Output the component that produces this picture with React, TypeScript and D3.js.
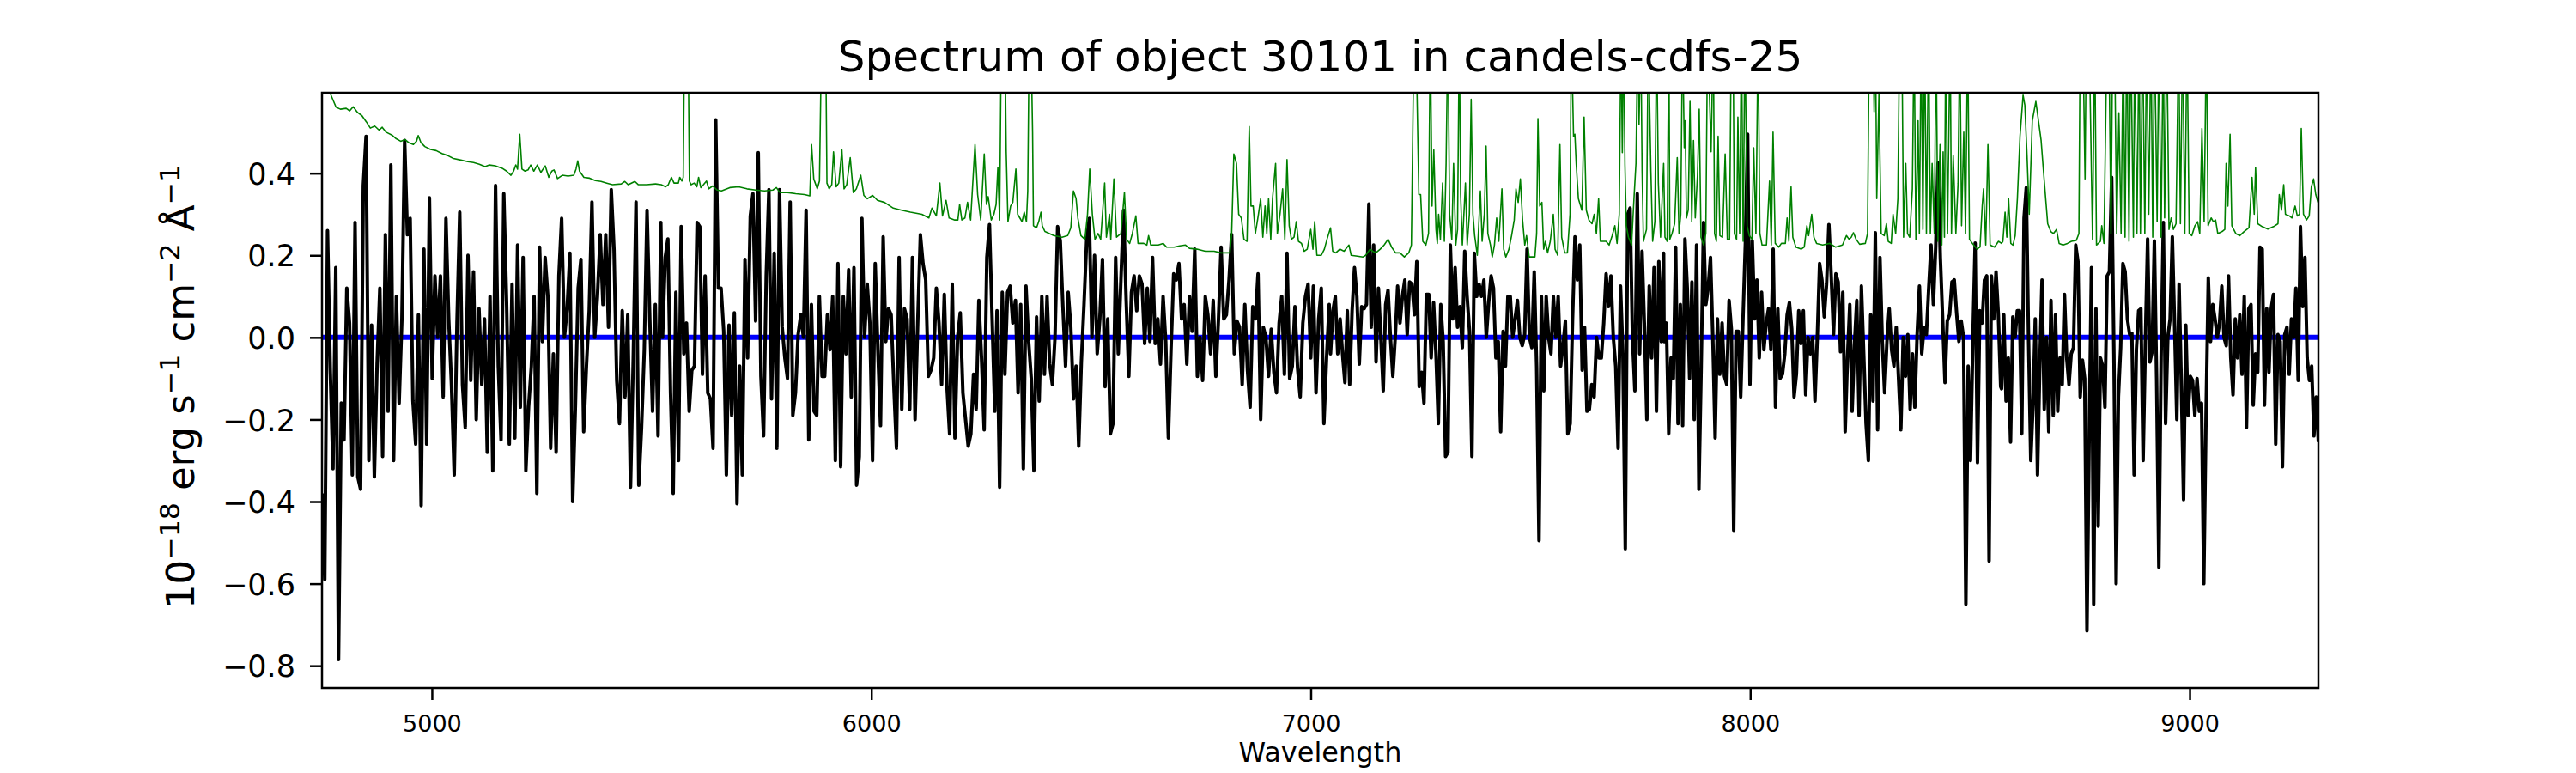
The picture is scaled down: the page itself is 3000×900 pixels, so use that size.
import React, { useEffect, useRef } from 'react'
import * as d3 from 'd3'

const TITLE = 'Spectrum of object 30101 in candels-cdfs-25'
const X_LABEL = 'Wavelength'
const X_TICKS = [5000, 6000, 7000, 8000, 9000]
const Y_TICKS = [-0.8, -0.6, -0.4, -0.2, 0.0, 0.2, 0.4]
const X_DOMAIN: [number, number] = [4750, 9293]
const Y_DOMAIN: [number, number] = [-0.854, 0.596]

// flux, one stretch at a time (points evenly spread over each stretch)
const FLUX_A = [
  -0.38, -0.59, 0.26, -0.08, -0.32, 0.17, -0.785, -0.16, -0.25, 0.12,
  0.035, -0.335, 0.28, -0.34, -0.37, 0.37, 0.49, -0.30, 0.03, -0.34,
  -0.065, 0.12, -0.29, 0.25, -0.18, 0.42, -0.30, 0.10, -0.16, 0.045,
  0.48, 0.25, 0.29, -0.155, -0.26, 0.055, -0.41, 0.215, -0.26, 0.34,
  -0.10, 0.15, 0.0, 0.15, -0.145, 0.29, 0.045, -0.115, -0.335, 0.035,
  0.305, -0.115, -0.22, 0.20, -0.105, 0.16, -0.20, 0.07, -0.115, 0.045,
  -0.28, 0.10, -0.325, 0.37, -0.07, -0.25, 0.35, 0.09, -0.26, 0.13,
  -0.245, 0.225, -0.17, 0.195, -0.325, -0.17, -0.07, 0.10, -0.38, 0.22,
  -0.01, 0.195, 0.10, -0.27, -0.04, -0.28, 0.15, 0.29, 0.0, 0.07,
  0.205, -0.40, -0.165, 0.12, 0.19, -0.23, -0.07, 0.065, 0.33, 0.0,
  0.10, 0.25, 0.08, 0.25, 0.025, 0.36, 0.215, -0.105, -0.21, 0.065,
  -0.145, 0.055, -0.365, -0.05, 0.33, -0.36, -0.22, -0.03, 0.31, 0.045,
  -0.18, 0.08, -0.24, 0.28,
]
const FLUX_B = [
  0.0, 0.195, 0.24, -0.135, -0.38, 0.11, -0.30, 0.27, -0.04, 0.035,
  -0.18, -0.08, -0.07, 0.28, 0.27, -0.09, 0.15, -0.135, -0.15, -0.27,
  0.53, 0.12, 0.12, 0.015, -0.335, 0.03, -0.19, 0.06, -0.405, -0.07,
  -0.335, 0.19, -0.05, 0.295, 0.35, 0.04, 0.45, -0.095, -0.24, 0.15,
  0.36, -0.15, 0.205, -0.27, 0.36, 0.025, -0.05, -0.10, 0.33, -0.19,
  -0.135, 0.007, 0.055, 0.0, 0.31, -0.25, 0.08, -0.18, -0.19, 0.10,
  -0.095, -0.095, 0.055, -0.03, 0.10, -0.30, 0.18, -0.315, 0.10, -0.04,
  0.165, -0.145, 0.17, -0.36, -0.29, 0.29, 0.0, 0.13, 0.035, -0.30,
  0.18, -0.03, -0.215, 0.245, -0.01, 0.07, 0.055, -0.115, -0.27, 0.195,
  -0.175, 0.07, 0.045, -0.175, 0.195, -0.20, 0.035, 0.25, 0.18, 0.14,
  -0.095, -0.08, -0.05, 0.12, 0.035, -0.115, 0.105, -0.12, -0.235, 0.13,
  -0.245, 0.0, 0.06, -0.135, -0.20, -0.265, -0.235, -0.09, -0.175, 0.09,
  -0.05, -0.225, 0.195, 0.275, 0.045, -0.18,
]
const FLUX_C = [
  0.065, -0.365, 0.11, -0.09, 0.11, 0.125, 0.035, 0.09, -0.135, 0.08,
  -0.32, 0.125, -0.01, -0.10, -0.325, 0.05, -0.155, 0.10, -0.09, 0.10,
  -0.065, -0.115, 0.0, 0.27, 0.235, 0.075, -0.07, 0.11, 0.025, -0.15,
  -0.07, -0.265, -0.06, 0.08, 0.235, 0.29, 0.0, 0.20, -0.04, 0.045,
  0.19, -0.12, 0.045, -0.235, -0.21, 0.195, -0.04, 0.14, 0.31, 0.09,
  -0.095, 0.11, 0.15, 0.065, 0.15, 0.13, -0.015, 0.12, -0.01, 0.195,
  -0.015, 0.045, -0.065, 0.10, -0.01, -0.245, -0.03, 0.155, 0.14, 0.18,
  0.045, 0.08, -0.065, 0.10, 0.015, 0.215, -0.095, 0.0, -0.105, 0.10,
  0.055, -0.04, 0.09, -0.095, 0.045, 0.22, 0.045, 0.055, 0.14, 0.25,
  -0.04, 0.04, 0.025, -0.115, 0.08, -0.08, -0.17, 0.075, 0.045, 0.155,
  -0.20, 0.025, 0.0, -0.095, 0.02, -0.085, -0.135, 0.035, 0.10, -0.09,
  0.205, -0.10, -0.07, 0.075, -0.075, -0.145, 0.035, 0.10, 0.13, -0.05,
  0.125, -0.135, 0.045, 0.12, -0.21, -0.05, 0.08,
]
const FLUX_D = [
  -0.04, 0.065, 0.10, -0.04, 0.045, -0.04, -0.11, 0.065, -0.115, 0.065,
  0.17, 0.10, -0.065, 0.075, 0.07, 0.08, 0.325, 0.025, 0.225, -0.06,
  0.12, 0.0, -0.13, 0.08, 0.115, 0.0, -0.095, 0.0, 0.125, 0.035,
  0.10, 0.14, 0.007, 0.135, 0.13, 0.055, 0.185, -0.12, -0.085, -0.16,
  0.105, 0.105, -0.05, 0.085, -0.04, -0.21, 0.08, -0.01, -0.29, -0.28,
  0.225, 0.045, 0.17, 0.025, 0.075, -0.025, 0.21, 0.10, 0.015, -0.29,
  0.205, 0.10, 0.13, 0.10, 0.14, 0.0, 0.085, 0.15, 0.12, -0.05,
  -0.01, -0.23, 0.015, -0.07, 0.10, 0.10, 0.0, 0.045, 0.09, 0.0,
  -0.02, 0.007, 0.215, 0.0, -0.025, 0.16, -0.07, -0.495, 0.10, -0.13,
  0.10, 0.0, -0.04, 0.10, 0.0, 0.10, -0.07, -0.02, 0.04, -0.235,
  -0.21, 0.045, 0.245, 0.14, 0.225, -0.08, 0.025, -0.18, -0.175, -0.115,
  -0.145, 0.0, -0.05, -0.05, 0.035, 0.155, 0.075, 0.15, 0.0, -0.07,
  -0.27, 0.125, -0.04, -0.515, 0.30, 0.315, 0.0, -0.13, 0.35, -0.04,
  0.21, 0.025, -0.20, 0.125, -0.05, 0.17, -0.18, 0.185, -0.01, 0.205,
]
const FLUX_E = [
  -0.01, 0.035, -0.235, -0.05, -0.10, 0.22, -0.21, 0.08, -0.215, 0.24,
  0.12, -0.10, 0.135, -0.20, 0.225, -0.37, -0.07, 0.28, 0.08, 0.12,
  0.195, 0.0, -0.245, 0.045, -0.09, 0.035, -0.095, -0.115, 0.09, 0.02,
  -0.47, 0.015, 0.015, -0.145, 0.045, 0.225, 0.495, -0.115, 0.235, 0.045,
  0.14, -0.05, 0.11, -0.03, 0.035, 0.07, -0.03, 0.215, -0.17, 0.07,
  -0.10, -0.09, -0.04, 0.055, 0.085, 0.02, -0.145, -0.09, 0.065, -0.015,
  0.065, -0.14, 0.0, -0.04, 0.0, -0.155, 0.0, 0.18, 0.14, 0.05,
  0.13, 0.275, 0.15, 0.007, 0.155, 0.135, -0.035, 0.11, -0.23, -0.05,
  0.08, -0.18, -0.02, 0.09, -0.19, 0.125, -0.04, -0.21, -0.30, 0.055,
  -0.155, 0.255, -0.225, 0.195, -0.01, -0.135, -0.01, 0.07, -0.03, -0.07,
  0.025, -0.10, -0.225, 0.0, -0.095, 0.007, -0.175, -0.04, -0.17, 0.007,
  0.125, -0.04, 0.025, 0.007, 0.12, 0.225, 0.08, 0.22, 0.425, 0.195,
  0.045, -0.11, 0.04, 0.055, 0.135, 0.14, 0.06, -0.01, 0.04, 0.0,
  -0.65, -0.07, -0.30, -0.01, 0.23, -0.305, 0.065, 0.035, 0.14, 0.15,
  -0.545, 0.15, 0.045, 0.16, 0.055, -0.12,
]
const FLUX_F = [
  -0.125, 0.055, -0.155, -0.05, -0.255, 0.05, 0.0, 0.065, 0.065, -0.235,
  0.29, 0.365, 0.0, -0.30, -0.165, 0.045, -0.335, -0.07, 0.14, -0.175,
  0.0, -0.23, 0.09, -0.19, 0.055, -0.18, -0.05, -0.115, 0.105, -0.05,
  -0.115, -0.04, -0.025, 0.225, 0.185, -0.145, -0.055, -0.10, -0.715, -0.24,
  0.17, -0.65, 0.07, -0.46, -0.05, -0.07, -0.17, 0.15, 0.16, 0.39,
  -0.04, -0.60, -0.145, -0.025, 0.18, 0.16, 0.045, 0.007, 0.01, -0.335,
  -0.03, 0.065, 0.07, -0.30, -0.01, 0.24, -0.06, -0.035, 0.235, -0.10,
  -0.56, -0.05, 0.28, -0.21, 0.0, 0.045, 0.245, 0.03, -0.20, 0.13,
  -0.115, -0.395, 0.03, -0.19, -0.095, -0.105, -0.19, -0.10, -0.18, -0.16,
  -0.60, -0.19, 0.145, -0.01, 0.08, 0.045, 0.0, 0.035, 0.125, 0.0,
  -0.02, 0.15, -0.05, -0.14, 0.045, -0.05, 0.055, -0.09, 0.10, -0.22,
  0.07, 0.08, -0.165, -0.04, -0.085, 0.22, 0.215, -0.165, 0.07, -0.085,
  0.07, 0.105, -0.26, 0.007, -0.01, -0.315, 0.007, 0.025, -0.09, 0.045,
  0.0, 0.12, -0.105, 0.27, 0.075, 0.195, -0.05, -0.105, -0.07, -0.24,
  -0.145, -0.255,
]

const FLUX_STRETCHES = [
  { from: 4750, to: 5521, flux: FLUX_A },
  { from: 5525, to: 6281, flux: FLUX_B },
  { from: 6286, to: 7042, flux: FLUX_C },
  { from: 7045, to: 7803, flux: FLUX_D },
  { from: 7804, to: 8570, flux: FLUX_E },
  { from: 8572, to: 9293, flux: FLUX_F },
]

// noise spectrum as [wavelength, value]; sky-line peaks run off the top of the axes
const NOISE: [number, number][] = [
  [4750, 0.63], [4769, 0.594], [4782, 0.561], [4792, 0.556], [4805, 0.558], [4813, 0.552], [4821, 0.562],
  [4831, 0.548], [4841, 0.54], [4851, 0.525], [4860, 0.51], [4870, 0.515], [4880, 0.505], [4887, 0.512],
  [4896, 0.50], [4909, 0.493], [4919, 0.484], [4929, 0.478], [4939, 0.482], [4948, 0.474], [4958, 0.47],
  [4965, 0.478], [4969, 0.492], [4975, 0.475], [4984, 0.465], [4997, 0.458], [5010, 0.455], [5023, 0.448],
  [5036, 0.443], [5049, 0.436], [5066, 0.432], [5082, 0.428], [5095, 0.426], [5108, 0.422], [5121, 0.416],
  [5131, 0.42], [5144, 0.418], [5160, 0.412], [5170, 0.405], [5180, 0.395], [5186, 0.405], [5191, 0.42],
  [5195, 0.41], [5200, 0.495], [5205, 0.41], [5212, 0.405], [5219, 0.408], [5225, 0.42], [5232, 0.405],
  [5240, 0.42], [5248, 0.402], [5258, 0.418], [5266, 0.39], [5273, 0.405], [5278, 0.408], [5286, 0.387],
  [5297, 0.395], [5310, 0.393], [5323, 0.395], [5328, 0.41], [5332, 0.43], [5336, 0.405], [5346, 0.39],
  [5359, 0.388], [5372, 0.382], [5385, 0.38], [5398, 0.376], [5411, 0.372], [5431, 0.374], [5439, 0.38],
  [5447, 0.372], [5462, 0.38], [5470, 0.372], [5489, 0.372], [5509, 0.374], [5522, 0.372],
  [5532, 0.367], [5538, 0.372], [5545, 0.39], [5551, 0.376], [5561, 0.376], [5564, 0.39], [5569, 0.381],
  [5572, 0.39], [5575, 0.75], [5579, 0.62], [5583, 0.75], [5586, 0.381], [5590, 0.372], [5597, 0.376],
  [5603, 0.367], [5607, 0.39], [5612, 0.365], [5618, 0.372], [5625, 0.381], [5630, 0.362], [5639, 0.369],
  [5649, 0.359], [5659, 0.357], [5678, 0.365], [5698, 0.367], [5717, 0.362], [5737, 0.359], [5757, 0.357],
  [5776, 0.359], [5784, 0.365], [5792, 0.353], [5809, 0.353], [5828, 0.35], [5848, 0.348], [5860, 0.345],
  [5864, 0.47], [5869, 0.386], [5877, 0.362], [5882, 0.381], [5887, 0.75], [5892, 0.65], [5896, 0.75],
  [5899, 0.376], [5904, 0.362], [5910, 0.372], [5914, 0.452], [5920, 0.367], [5926, 0.376], [5933, 0.457],
  [5938, 0.362], [5944, 0.372], [5952, 0.438], [5959, 0.353], [5966, 0.362], [5976, 0.395], [5983, 0.346],
  [5991, 0.338], [6003, 0.346], [6014, 0.334], [6030, 0.329], [6050, 0.315], [6069, 0.31], [6089, 0.305],
  [6115, 0.30], [6131, 0.291], [6138, 0.315], [6148, 0.296], [6156, 0.376], [6162, 0.296], [6170, 0.334],
  [6177, 0.291], [6190, 0.286], [6197, 0.286], [6201, 0.324], [6206, 0.286], [6213, 0.291], [6219, 0.329],
  [6226, 0.286], [6236, 0.47], [6242, 0.348], [6249, 0.286], [6257, 0.447], [6262, 0.324], [6266, 0.343],
  [6273, 0.286], [6279, 0.30], [6284, 0.324],
  [6288, 0.414], [6292, 0.286], [6296, 0.75], [6300, 0.60], [6304, 0.75], [6307, 0.452], [6311, 0.282],
  [6317, 0.32], [6322, 0.329], [6329, 0.41], [6333, 0.30], [6338, 0.291], [6343, 0.282], [6348, 0.305],
  [6353, 0.282], [6356, 0.357], [6359, 0.70], [6363, 0.75], [6367, 0.50], [6369, 0.272], [6376, 0.267],
  [6381, 0.282], [6386, 0.305], [6389, 0.272], [6395, 0.258], [6415, 0.248], [6434, 0.244], [6447, 0.248],
  [6454, 0.267], [6460, 0.357], [6466, 0.338], [6470, 0.291], [6477, 0.248], [6486, 0.239], [6492, 0.30],
  [6497, 0.41], [6503, 0.30], [6509, 0.239], [6516, 0.253], [6522, 0.239], [6531, 0.376], [6535, 0.244],
  [6542, 0.30], [6545, 0.239], [6552, 0.386], [6558, 0.244], [6568, 0.253], [6576, 0.353], [6581, 0.239],
  [6588, 0.229], [6594, 0.253], [6602, 0.296], [6607, 0.229], [6620, 0.229], [6627, 0.225], [6631, 0.248],
  [6636, 0.225], [6653, 0.225], [6664, 0.229], [6672, 0.22], [6689, 0.22], [6702, 0.223], [6715, 0.225],
  [6724, 0.217], [6741, 0.215], [6760, 0.21], [6780, 0.21], [6796, 0.206], [6816, 0.206], [6820, 0.253],
  [6825, 0.447], [6831, 0.424], [6836, 0.30], [6842, 0.291], [6848, 0.239], [6855, 0.234], [6860, 0.514],
  [6864, 0.32], [6869, 0.32], [6874, 0.253], [6881, 0.30], [6886, 0.338], [6891, 0.244], [6896, 0.32],
  [6900, 0.253], [6904, 0.338], [6909, 0.239], [6913, 0.338], [6920, 0.424], [6924, 0.253], [6930, 0.30],
  [6936, 0.362], [6941, 0.239], [6946, 0.433], [6951, 0.272], [6956, 0.239], [6962, 0.244], [6967, 0.282],
  [6972, 0.234], [6979, 0.229], [6985, 0.21], [6992, 0.215], [7000, 0.263], [7005, 0.215], [7009, 0.282],
  [7014, 0.20], [7024, 0.20], [7031, 0.215], [7037, 0.239], [7045, 0.267],
  [7050, 0.21], [7057, 0.206], [7066, 0.215], [7076, 0.21], [7083, 0.22], [7087, 0.225], [7092, 0.20],
  [7106, 0.198], [7119, 0.196], [7125, 0.20], [7135, 0.215], [7141, 0.21], [7148, 0.206], [7158, 0.215],
  [7167, 0.225], [7176, 0.239], [7184, 0.22], [7193, 0.206], [7203, 0.206], [7213, 0.196], [7223, 0.206],
  [7229, 0.225], [7235, 0.75], [7240, 0.70], [7246, 0.348], [7250, 0.348], [7255, 0.234], [7262, 0.225],
  [7268, 0.253], [7272, 0.75], [7276, 0.32], [7280, 0.457], [7285, 0.263], [7288, 0.229], [7291, 0.30],
  [7295, 0.239], [7300, 0.376], [7304, 0.234], [7308, 0.424], [7312, 0.75], [7316, 0.30], [7321, 0.239],
  [7325, 0.424], [7330, 0.225], [7334, 0.263], [7338, 0.75], [7341, 0.348], [7345, 0.225], [7352, 0.376],
  [7356, 0.225], [7361, 0.30], [7365, 0.58], [7369, 0.30], [7373, 0.248], [7379, 0.20], [7386, 0.357],
  [7390, 0.234], [7395, 0.30], [7399, 0.466], [7403, 0.253], [7409, 0.225], [7413, 0.196], [7418, 0.225],
  [7423, 0.291], [7428, 0.234], [7435, 0.362], [7439, 0.215], [7444, 0.196], [7451, 0.215], [7457, 0.248],
  [7463, 0.286], [7467, 0.362], [7472, 0.329], [7477, 0.386], [7482, 0.286], [7487, 0.225], [7491, 0.248],
  [7497, 0.196], [7510, 0.196], [7514, 0.253], [7517, 0.533], [7521, 0.32], [7526, 0.329], [7530, 0.215],
  [7534, 0.234], [7539, 0.206], [7545, 0.234], [7552, 0.30], [7556, 0.215], [7562, 0.20], [7567, 0.47],
  [7571, 0.244], [7578, 0.206], [7584, 0.206], [7590, 0.30], [7593, 0.75], [7598, 0.49], [7601, 0.495],
  [7604, 0.424], [7609, 0.338], [7617, 0.31], [7622, 0.537], [7627, 0.31], [7633, 0.286], [7640, 0.277],
  [7645, 0.30], [7650, 0.253], [7655, 0.338], [7659, 0.234], [7672, 0.234], [7679, 0.225], [7686, 0.248],
  [7692, 0.272], [7697, 0.229], [7702, 0.30], [7706, 0.75], [7709, 0.45], [7712, 0.75], [7715, 0.42],
  [7718, 0.272], [7723, 0.244], [7730, 0.225], [7736, 0.348], [7740, 0.424], [7744, 0.75], [7747, 0.518],
  [7751, 0.75], [7754, 0.405], [7757, 0.234], [7764, 0.263], [7768, 0.75], [7774, 0.405], [7778, 0.234],
  [7783, 0.282], [7787, 0.75], [7791, 0.376], [7796, 0.244], [7803, 0.424],
  [7806, 0.244], [7811, 0.234], [7815, 0.75], [7817, 0.239], [7822, 0.253], [7828, 0.277], [7834, 0.438],
  [7838, 0.253], [7842, 0.30], [7846, 0.75], [7850, 0.462], [7852, 0.528], [7855, 0.291], [7859, 0.31],
  [7863, 0.575], [7867, 0.282], [7871, 0.48], [7875, 0.291], [7880, 0.395], [7884, 0.556], [7888, 0.244],
  [7894, 0.225], [7899, 0.253], [7903, 0.75], [7907, 0.60], [7911, 0.452], [7916, 0.75], [7919, 0.253],
  [7923, 0.234], [7927, 0.49], [7931, 0.248], [7937, 0.244], [7943, 0.447], [7948, 0.239], [7953, 0.239],
  [7957, 0.75], [7961, 0.75], [7964, 0.253], [7969, 0.239], [7972, 0.537], [7976, 0.253], [7980, 0.75],
  [7984, 0.234], [7988, 0.75], [7993, 0.272], [7998, 0.248], [8004, 0.239], [8008, 0.462], [8013, 0.253],
  [8018, 0.75], [8022, 0.253], [8027, 0.225], [8037, 0.225], [8044, 0.381], [8048, 0.225], [8052, 0.50],
  [8057, 0.229], [8065, 0.22], [8071, 0.229], [8080, 0.229], [8084, 0.291], [8088, 0.234], [8093, 0.367],
  [8097, 0.244], [8104, 0.22], [8116, 0.215], [8123, 0.22], [8129, 0.272], [8133, 0.248], [8140, 0.30],
  [8145, 0.244], [8151, 0.229], [8165, 0.225], [8181, 0.229], [8194, 0.22], [8210, 0.225], [8219, 0.248],
  [8225, 0.239], [8230, 0.244], [8235, 0.255], [8241, 0.239], [8249, 0.227], [8262, 0.229], [8267, 0.253],
  [8271, 0.75], [8275, 0.65], [8279, 0.75], [8282, 0.55], [8285, 0.75], [8288, 0.338], [8293, 0.594],
  [8298, 0.253], [8305, 0.248], [8310, 0.277], [8314, 0.234], [8321, 0.229], [8325, 0.30], [8331, 0.253],
  [8336, 0.338], [8340, 0.75], [8345, 0.75], [8349, 0.244], [8354, 0.424], [8358, 0.253], [8363, 0.244],
  [8369, 0.362], [8373, 0.75], [8377, 0.239], [8382, 0.528], [8385, 0.253], [8389, 0.75], [8393, 0.263],
  [8397, 0.75], [8401, 0.253], [8406, 0.75], [8410, 0.253], [8414, 0.424], [8419, 0.253], [8423, 0.75],
  [8427, 0.234], [8432, 0.47], [8436, 0.225], [8439, 0.452], [8442, 0.244], [8445, 0.75], [8449, 0.253],
  [8455, 0.75], [8458, 0.253], [8462, 0.443], [8468, 0.253], [8473, 0.376], [8477, 0.75], [8481, 0.272],
  [8486, 0.50], [8490, 0.253], [8495, 0.75], [8499, 0.239], [8507, 0.227], [8516, 0.215], [8523, 0.22],
  [8528, 0.32], [8531, 0.362], [8536, 0.225], [8541, 0.47], [8546, 0.225], [8556, 0.22], [8565, 0.234],
  [8572, 0.229],
  [8575, 0.234], [8580, 0.305], [8584, 0.244], [8588, 0.338], [8593, 0.229], [8598, 0.225], [8603, 0.248],
  [8608, 0.338], [8614, 0.49], [8621, 0.59], [8625, 0.566], [8630, 0.443], [8635, 0.30], [8642, 0.528],
  [8650, 0.575], [8656, 0.528], [8662, 0.48], [8666, 0.424], [8671, 0.357], [8677, 0.277], [8684, 0.258],
  [8690, 0.253], [8697, 0.263], [8703, 0.229], [8712, 0.225], [8722, 0.229], [8731, 0.234], [8742, 0.236],
  [8748, 0.253], [8751, 0.75], [8756, 0.75], [8759, 0.60], [8762, 0.386], [8765, 0.75], [8771, 0.75],
  [8775, 0.50], [8779, 0.239], [8784, 0.75], [8788, 0.225], [8797, 0.234], [8800, 0.272], [8805, 0.229],
  [8812, 0.75], [8816, 0.75], [8821, 0.253], [8825, 0.75], [8829, 0.75], [8834, 0.253], [8839, 0.547],
  [8844, 0.253], [8849, 0.75], [8853, 0.244], [8857, 0.75], [8862, 0.234], [8866, 0.75], [8872, 0.244],
  [8875, 0.75], [8880, 0.253], [8885, 0.75], [8888, 0.253], [8893, 0.75], [8898, 0.253], [8902, 0.75],
  [8907, 0.30], [8912, 0.75], [8916, 0.244], [8920, 0.75], [8926, 0.282], [8930, 0.75], [8935, 0.244],
  [8940, 0.75], [8943, 0.291], [8948, 0.75], [8953, 0.263], [8958, 0.291], [8963, 0.263], [8969, 0.277],
  [8975, 0.75], [8979, 0.277], [8984, 0.75], [8989, 0.253], [8994, 0.75], [8999, 0.253], [9005, 0.248],
  [9012, 0.272], [9018, 0.282], [9023, 0.253], [9028, 0.509], [9033, 0.282], [9038, 0.75], [9042, 0.272],
  [9049, 0.291], [9054, 0.282], [9059, 0.286], [9064, 0.253], [9074, 0.258], [9080, 0.263], [9083, 0.424],
  [9087, 0.32], [9092, 0.495], [9096, 0.272], [9105, 0.253], [9114, 0.248], [9124, 0.258], [9135, 0.267],
  [9142, 0.39], [9147, 0.30], [9150, 0.414], [9155, 0.277], [9165, 0.27], [9178, 0.264], [9191, 0.27],
  [9201, 0.277], [9204, 0.348], [9209, 0.31], [9214, 0.372], [9218, 0.30], [9227, 0.296], [9233, 0.291],
  [9240, 0.32], [9245, 0.296], [9250, 0.30], [9254, 0.509], [9259, 0.30], [9266, 0.286], [9272, 0.296],
  [9277, 0.367], [9282, 0.386], [9287, 0.348], [9292, 0.329],
]

const WIDTH = 3000
const HEIGHT = 900
const FONT = 'DejaVu Sans, sans-serif'

function SpectrumChart() {
  const svgRef = useRef<SVGSVGElement>(null)

  useEffect(() => {
    if (!svgRef.current) return
    const root = d3.select(svgRef.current)
    root.selectAll('*').remove()

    const margin = { top: 108, right: 300, bottom: 99, left: 375 }
    const innerWidth = WIDTH - margin.left - margin.right
    const innerHeight = HEIGHT - margin.top - margin.bottom

    const x = d3.scaleLinear().domain(X_DOMAIN).range([0, innerWidth])
    const y = d3.scaleLinear().domain(Y_DOMAIN).range([innerHeight, 0])

    root.append('rect').attr('width', WIDTH).attr('height', HEIGHT).attr('fill', '#fff')

    root.append('defs').append('clipPath').attr('id', 'plot-area')
      .append('rect').attr('width', innerWidth).attr('height', innerHeight)

    const g = root.append('g').attr('transform', `translate(${margin.left},${margin.top})`)
    const plot = g.append('g').attr('clip-path', 'url(#plot-area)')

    const line = d3.line<[number, number]>()
      .x(d => x(d[0]))
      .y(d => y(d[1]))

    // zero level
    plot.append('line')
      .attr('x1', 0).attr('x2', innerWidth)
      .attr('y1', y(0)).attr('y2', y(0))
      .attr('stroke', '#0000ff')
      .attr('stroke-width', 6)

    // flux
    const fluxPoints: [number, number][] = FLUX_STRETCHES.flatMap(s =>
      s.flux.map((f, i) => [s.from + (i * (s.to - s.from)) / (s.flux.length - 1), f] as [number, number])
    )
    plot.append('path')
      .datum(fluxPoints)
      .attr('fill', 'none')
      .attr('stroke', '#000')
      .attr('stroke-width', 4)
      .attr('stroke-linejoin', 'round')
      .attr('d', line)

    // noise
    plot.append('path')
      .datum(NOISE)
      .attr('fill', 'none')
      .attr('stroke', '#008000')
      .attr('stroke-width', 1.6)
      .attr('stroke-linejoin', 'round')
      .attr('d', line)

    // axes
    const xAxis = d3.axisBottom(x)
      .tickValues(X_TICKS)
      .tickSize(14)
      .tickPadding(18)
      .tickFormat(d => `${d}`)

    const yAxis = d3.axisLeft(y)
      .tickValues(Y_TICKS)
      .tickSize(14)
      .tickPadding(17)
      .tickFormat(d => {
        const v = +d
        return v < 0 ? `\u2212${Math.abs(v).toFixed(1)}` : v.toFixed(1)
      })

    const gx = g.append('g').attr('transform', `translate(0,${innerHeight})`).call(xAxis)
    gx.select('.domain').remove()
    gx.selectAll('line').attr('stroke', '#000').attr('stroke-width', 2.5)
    gx.selectAll('text').attr('font-family', FONT).attr('font-size', 27).attr('fill', '#000')

    const gy = g.append('g').call(yAxis)
    gy.select('.domain').remove()
    gy.selectAll('line').attr('stroke', '#000').attr('stroke-width', 2.5)
    gy.selectAll('text')
      .attr('font-family', FONT).attr('font-size', 35).attr('fill', '#000')
      .attr('dy', '0.36em')

    // frame
    g.append('rect')
      .attr('width', innerWidth).attr('height', innerHeight)
      .attr('fill', 'none')
      .attr('stroke', '#000')
      .attr('stroke-width', 2.5)

    // title
    root.append('text')
      .attr('x', margin.left + innerWidth / 2)
      .attr('y', 83)
      .attr('text-anchor', 'middle')
      .attr('font-family', FONT)
      .attr('font-size', 50)
      .text(TITLE)

    // x label
    root.append('text')
      .attr('x', margin.left + innerWidth / 2)
      .attr('y', 887)
      .attr('text-anchor', 'middle')
      .attr('font-family', FONT)
      .attr('font-size', 32)
      .text(X_LABEL)

    // y label: 10^-18 erg s^-1 cm^-2 Å^-1
    const fs = 45
    const up = fs * 0.38
    const yl = root.append('text')
      .attr('transform', `translate(226,${margin.top + innerHeight / 2 - 4}) rotate(-90)`)
      .attr('text-anchor', 'middle')
      .attr('font-family', FONT)
      .attr('font-size', fs)
      .style('white-space', 'pre')
    const parts: [string, boolean][] = [
      ['10', false], ['\u221218', true], [' erg s', false], ['\u22121', true],
      [' cm', false], ['\u22122', true], [' \u00c5', false], ['\u22121', true],
    ]
    let raised = false
    parts.forEach(([t, sup]) => {
      const span = yl.append('tspan').text(t)
      if (sup && !raised) { span.attr('dy', -up).attr('font-size', fs * 0.7); raised = true }
      else if (sup) span.attr('font-size', fs * 0.7)
      else if (raised) { span.attr('dy', up); raised = false }
    })
  }, [])

  return (
    <svg
      ref={svgRef}
      width={WIDTH}
      height={HEIGHT}
      style={{ position: 'absolute', left: 0, top: 0 }}
    />
  )
}

export default function App() {
  return <SpectrumChart />
}
